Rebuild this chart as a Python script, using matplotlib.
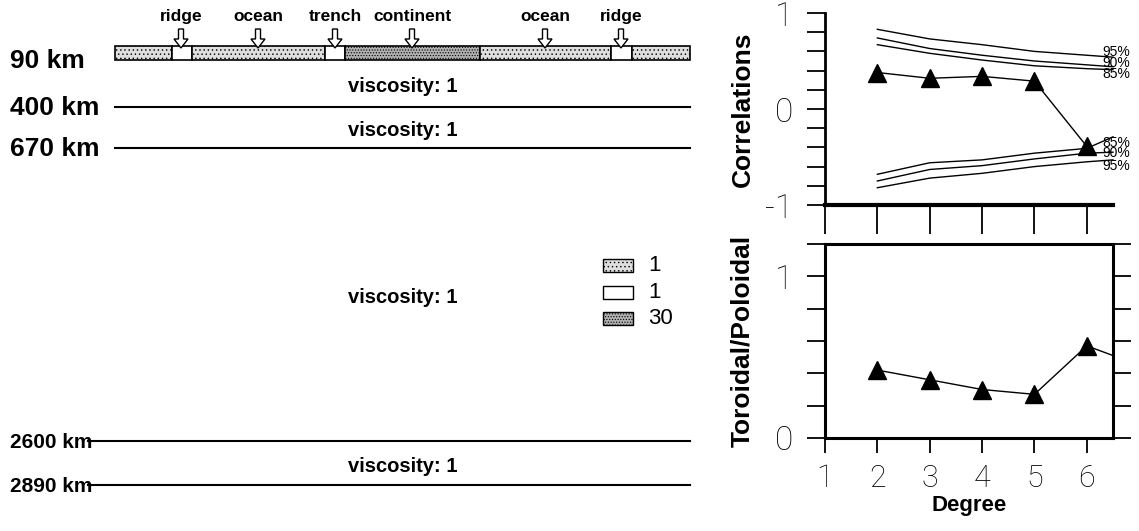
import matplotlib
matplotlib.use("Agg")
import matplotlib.pyplot as plt
from matplotlib.patches import Rectangle, FancyArrow
from matplotlib.ticker import MultipleLocator, FixedLocator

# ---------------- data ----------------
depth_km = [90, 400, 670, 2600, 2890]
depth_labels = ["90 km", "400 km", "670 km", "2600 km", "2890 km"]
layer_viscosity = ["viscosity: 1", "viscosity: 1", "viscosity: 1", "viscosity: 1"]

plate_types = ["ocean", "ridge", "ocean", "trench", "continent", "ocean", "ridge", "ocean"]
plate_kind = ["o", "w", "o", "w", "c", "o", "w", "o"]
arrow_labels = ["ridge", "ocean", "trench", "continent", "ocean", "ridge"]
legend_values = ["1", "1", "30"]

degree = [2, 3, 4, 5, 6]
correlation = [0.38, 0.32, 0.34, 0.29, -0.39]
sig_degree = [2, 3, 4, 5, 6, 6.5]
sig_up_95 = [0.83, 0.73, 0.67, 0.60, 0.56, 0.54]
sig_up_90 = [0.74, 0.63, 0.56, 0.50, 0.46, 0.44]
sig_up_85 = [0.67, 0.58, 0.51, 0.45, 0.42, 0.41]
sig_lo_85 = [-0.68, -0.56, -0.53, -0.46, -0.41, -0.29]
sig_lo_90 = [-0.75, -0.63, -0.59, -0.52, -0.46, -0.45]
sig_lo_95 = [-0.82, -0.72, -0.67, -0.60, -0.55, -0.53]
tp_degree = [2, 3, 4, 5, 6]
tp_ratio = [0.42, 0.36, 0.30, 0.27, 0.57]
tp_tail_degree = [6, 6.5]
tp_tail = [0.57, 0.51]

# ---------------- figure ----------------
plt.rcParams["hatch.color"] = "#8a8a8a"
plt.rcParams["hatch.linewidth"] = 0.5
W, H = 1139, 531
fig = plt.figure(figsize=(W / 100, H / 100), dpi=100)
BOLD = dict(family="Liberation Sans", fontweight="bold")
THIN = dict(family=["Roboto", "Liberation Sans"], fontweight="light")

# left schematic: x in pixels, y in km (linear depth scale)
axL = fig.add_axes([0, 0, 720 / W, 1])
px_per_km = 0.1519
y0 = 46.2
axL.set_xlim(0, 720)
axL.set_ylim((H - y0) / px_per_km, -y0 / px_per_km)
axL.axis("off")

def py(pix):
    return (pix - y0) / px_per_km

# plate bar
bounds = [115, 172, 192, 325, 345, 480, 611, 632, 690]
fills = {"o": "#dedede", "w": "white", "c": "#b0b0b0"}
hatches = {"o": "....", "w": None, "c": "......"}
for i, k in enumerate(plate_kind):
    r = Rectangle((bounds[i], 0), bounds[i + 1] - bounds[i], depth_km[0],
                  facecolor=fills[k], edgecolor="black", lw=1.2,
                  hatch=hatches[k])
    axL.add_patch(r)

arrow_x = [181, 258, 335, 412, 545, 621]
for x, lab in zip(arrow_x, arrow_labels):
    axL.add_patch(FancyArrow(x, py(29), 0, py(48) - py(29), width=5,
                             head_width=14, head_length=py(48) - py(39),
                             length_includes_head=True, facecolor="white",
                             edgecolor="black", lw=1.0, zorder=5))
    axL.text(x, py(17), lab, ha="center", va="center", fontsize=12.5, **BOLD)

# depth lines and labels
line_start = [115, 115, 115, 88, 88]
for i, (d, lab, xs) in enumerate(zip(depth_km, depth_labels, line_start)):
    if d != depth_km[0]:
        axL.plot([xs, 690], [d, d], color="black", lw=1.5)
    axL.text(10, d + 6, lab, ha="left", va="center",
             fontsize=19 if i < 3 else 15, **BOLD)

for i, lab in enumerate(layer_viscosity):
    mid = (depth_km[i] + depth_km[i + 1]) / 2 + 20
    axL.text(402.5, mid, lab, ha="center", va="center", fontsize=14.5, **BOLD)

# legend
leg_y = [266, 292.5, 319]
for yy, k, val in zip(leg_y, ["o", "w", "c"], legend_values):
    axL.add_patch(Rectangle((603, py(yy + 6.5)), 30, py(yy - 6.5) - py(yy + 6.5),
                            facecolor=fills[k], edgecolor="black", lw=1.0,
                            hatch=hatches[k]))
    axL.text(648, py(yy), val, ha="left", va="center", fontsize=16,
             family="Liberation Sans")

# ---------------- top right: correlations ----------------
x_l, x_r = 825, 1113
axC = fig.add_axes([x_l / W, 1 - 205 / H, (x_r - x_l) / W, (205 - 13) / H])
axC.set_xlim(1, 6.5)
axC.set_ylim(-1, 1)
for s in ["top", "right"]:
    axC.spines[s].set_visible(False)
axC.spines["left"].set_linewidth(2.0)
axC.spines["bottom"].set_linewidth(3.0)
for ys in [sig_up_95, sig_up_90, sig_up_85, sig_lo_85, sig_lo_90, sig_lo_95]:
    axC.plot(sig_degree, ys, color="black", lw=1.0, clip_on=False)
axC.plot(degree, correlation, color="black", lw=1.0, marker="^", ms=13,
         clip_on=False, zorder=5)
sig_lab = [("95%", 0.59), ("90%", 0.48), ("85%", 0.36),
           ("85%", -0.35), ("90%", -0.46), ("95%", -0.59)]
for t, yv in sig_lab:
    axC.text(6.3, yv, t, fontsize=10, ha="left", va="center",
             family="Liberation Sans", clip_on=False)
axC.yaxis.set_major_locator(FixedLocator([-1, 0, 1]))
axC.yaxis.set_minor_locator(MultipleLocator(0.2))
axC.xaxis.set_major_locator(FixedLocator([1, 2, 3, 4, 5, 6]))
axC.set_xticklabels([])
axC.tick_params(axis="y", which="both", direction="out", length=13, width=1.3,
                pad=10, labelsize=24)
axC.tick_params(axis="x", direction="out", length=21, width=1.3)
axC.set_yticklabels(["-1", "0", "1"], **THIN)
axC.set_ylabel("Correlations", fontsize=19, **BOLD)
axC.yaxis.set_label_coords(-0.245, 0.5)

# ---------------- bottom right: toroidal/poloidal ----------------
axT = fig.add_axes([x_l / W, 1 - 438 / H, (x_r - x_l) / W, (438 - 244) / H])
axT.set_xlim(1, 6.5)
axT.set_ylim(0, 1.2)
for s in axT.spines.values():
    s.set_linewidth(2.2)
axT.plot(tp_degree, tp_ratio, color="black", lw=1.0, marker="^", ms=12.5,
         clip_on=False, zorder=5)
axT.plot(tp_tail_degree, tp_tail, color="black", lw=1.0)
axT.yaxis.set_major_locator(FixedLocator([0, 1]))
axT.yaxis.set_minor_locator(MultipleLocator(0.2))
axT.xaxis.set_major_locator(FixedLocator([1, 2, 3, 4, 5, 6]))
axT.tick_params(axis="y", which="both", direction="out", length=13, width=1.3,
                pad=10, labelsize=24, right=True)
axT.tick_params(axis="x", direction="out", length=11, width=1.3, pad=8,
                labelsize=22)
axT.set_yticklabels(["0", "1"], **THIN)
axT.set_xticklabels(["1", "2", "3", "4", "5", "6"], **THIN)
axT.set_ylabel("Toroidal/Poloidal", fontsize=19, **BOLD)
axT.yaxis.set_label_coords(-0.245, 0.5)
axT.set_xlabel("Degree", fontsize=16, labelpad=1, **BOLD)

fig.savefig("out.png", dpi=100)
